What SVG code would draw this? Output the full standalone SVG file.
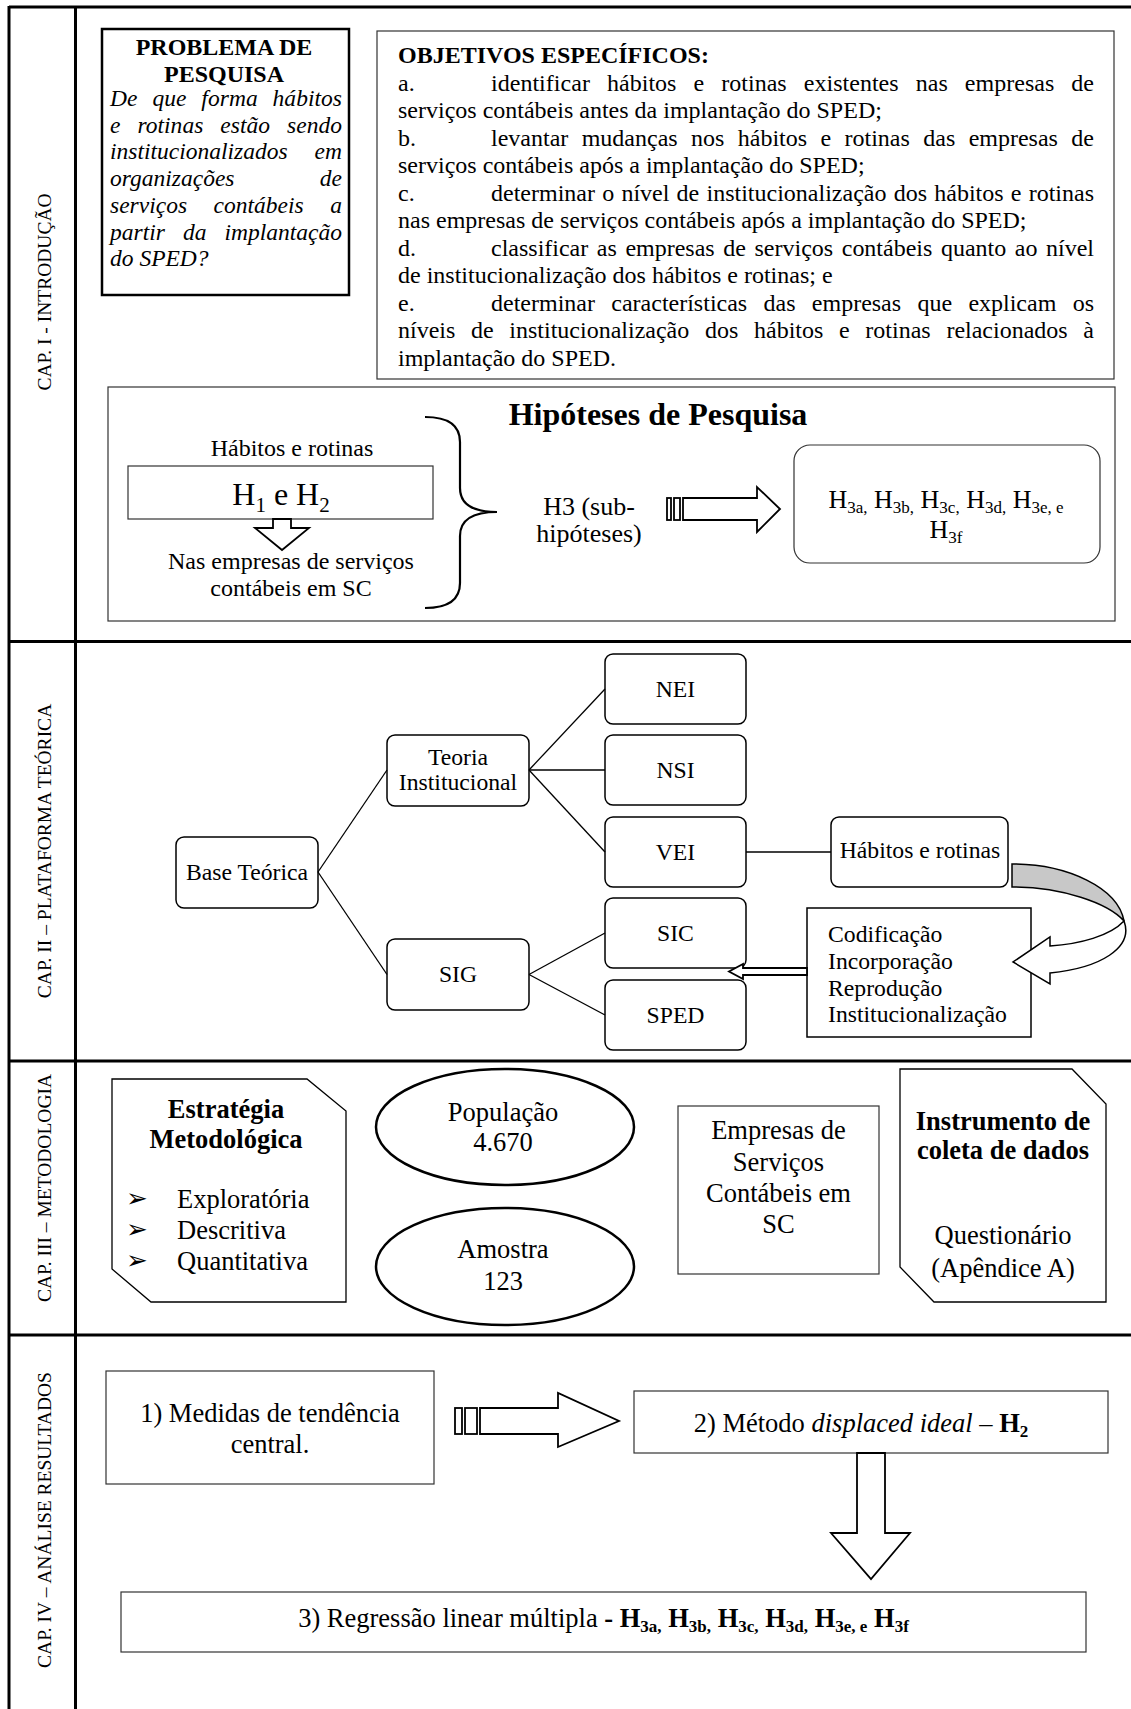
<svg xmlns="http://www.w3.org/2000/svg" width="1131" height="1709" viewBox="0 0 1131 1709">
<style>
text{font-family:"Liberation Serif","Times New Roman",serif;fill:#000}
.b{font-weight:bold}
.i{font-style:italic}
.m{text-anchor:middle}
.e{text-anchor:end}
.lab{font-size:19.5px;text-anchor:middle}
.f23{font-size:23.5px}
.f24{font-size:24px}
.f237{font-size:23.7px}
.f26{font-size:26px}
.f265{font-size:26.5px}
.f32{font-size:32px}
.fr{stroke:#000;stroke-width:3;fill:none}
.bx{fill:#fff;stroke:#000;stroke-width:1.5}
.gbx{fill:#fff;stroke:#333;stroke-width:1.2}
.cn{stroke:#000;stroke-width:1.3;fill:none}
.ar{fill:#fff;stroke:#000;stroke-width:1.8;stroke-miterlimit:10}
.bul{font-family:"DejaVu Sans",sans-serif;font-size:26px}
</style>
<rect width="1131" height="1709" fill="#fff"/>

<g id="frame">
<line class="fr" x1="9" y1="7" x2="1131" y2="7" stroke-width="2.5"/>
<line class="fr" x1="9" y1="6" x2="9" y2="1709" stroke-width="2.5"/>
<line class="fr" x1="75.5" y1="7" x2="75.5" y2="1709"/>
<line class="fr" x1="9" y1="641.5" x2="1131" y2="641.5"/>
<line class="fr" x1="9" y1="1061" x2="1131" y2="1061"/>
<line class="fr" x1="9" y1="1335" x2="1131" y2="1335"/>
</g>

<g id="labels">
<text class="lab" transform="translate(51,292) rotate(-90)">CAP. I - INTRODUÇÃO</text>
<text class="lab" transform="translate(51,851) rotate(-90)">CAP. II – PLATAFORMA TEÓRICA</text>
<text class="lab" transform="translate(51,1188) rotate(-90)">CAP. III – METODOLOGIA</text>
<text class="lab" transform="translate(51,1520) rotate(-90)">CAP. IV – ANÁLISE RESULTADOS</text>
</g>

<g id="problema">
<rect x="102" y="29" width="247" height="266" fill="#fff" stroke="#000" stroke-width="2.5"/>
<text class="b m f24" x="224" y="55">PROBLEMA DE</text>
<text class="b m f24" x="224" y="82">PESQUISA</text>
<text class="i f23" x="110" y="106" textLength="232" lengthAdjust="spacing" style="word-spacing:9px">De que forma hábitos</text>
<text class="i f23" x="110" y="132.7" textLength="232" lengthAdjust="spacing" style="word-spacing:11px">e rotinas estão sendo</text>
<text class="i f23" x="110" y="159.4" textLength="232" lengthAdjust="spacing" style="word-spacing:21px">institucionalizados em</text>
<text class="i f23" x="110" y="186">organizações</text>
<text class="i f23 e" x="342" y="186">de</text>
<text class="i f23" x="110" y="212.8" textLength="232" lengthAdjust="spacing" style="word-spacing:20.7px">serviços contábeis a</text>
<text class="i f23" x="110" y="239.5" textLength="232" lengthAdjust="spacing" style="word-spacing:12.2px">partir da implantação</text>
<text class="i f23" x="110" y="266.2">do SPED?</text>
</g>

<g id="objetivos">
<rect class="gbx" x="377" y="31" width="737" height="348"/>
<text class="b f24" x="398" y="63">OBJETIVOS ESPECÍFICOS:</text>
<text class="f24" x="398" y="90.5">a.</text>
<text class="f24" x="491" y="90.5" textLength="603" lengthAdjust="spacing" style="word-spacing:11px">identificar hábitos e rotinas existentes nas empresas de</text>
<text class="f24" x="398" y="118">serviços contábeis antes da implantação do SPED;</text>
<text class="f24" x="398" y="145.5">b.</text>
<text class="f24" x="491" y="145.5" textLength="603" lengthAdjust="spacing" style="word-spacing:7.4px">levantar mudanças nos hábitos e rotinas das empresas de</text>
<text class="f24" x="398" y="173">serviços contábeis após a implantação do SPED;</text>
<text class="f24" x="398" y="200.5">c.</text>
<text class="f24" x="491" y="200.5" textLength="603" lengthAdjust="spacing" style="word-spacing:1.2px">determinar o nível de institucionalização dos hábitos e rotinas</text>
<text class="f24" x="398" y="228">nas empresas de serviços contábeis após a implantação do SPED;</text>
<text class="f24" x="398" y="255.5">d.</text>
<text class="f24" x="491" y="255.5" textLength="603" lengthAdjust="spacing" style="word-spacing:2.6px">classificar as empresas de serviços contábeis quanto ao nível</text>
<text class="f24" x="398" y="283">de institucionalização dos hábitos e rotinas; e</text>
<text class="f24" x="398" y="310.5">e.</text>
<text class="f24" x="491" y="310.5" textLength="603" lengthAdjust="spacing" style="word-spacing:10.3px">determinar características das empresas que explicam os</text>
<text class="f24" x="398" y="338" textLength="696" lengthAdjust="spacing" style="word-spacing:9.7px">níveis de institucionalização dos hábitos e rotinas relacionados à</text>
<text class="f24" x="398" y="365.5">implantação do SPED.</text>
</g>

<g id="hipoteses">
<rect class="gbx" x="108" y="387" width="1007" height="234"/>
<text class="b m f32" x="658" y="425">Hipóteses de Pesquisa</text>
</g>

<g id="h1h2">
<text class="m f24" x="292" y="456">Hábitos e rotinas</text>
<rect class="gbx" x="128" y="466" width="305" height="53"/>
<text class="m f32" x="281" y="505">H<tspan font-size="21" dy="7">1</tspan><tspan dy="-7"> e H</tspan><tspan font-size="21" dy="7">2</tspan></text>
<text class="m f24" x="291" y="569">Nas empresas de serviços</text>
<text class="m f24" x="291" y="596">contábeis em SC</text>
</g>

<g id="h3">
<text class="m f26" x="589" y="515">H3 (sub-</text>
<text class="m f26" x="589" y="542">hipóteses)</text>
</g>

<g id="h3sub">
<rect class="gbx" x="794" y="445" width="306" height="118" rx="16"/>
<text class="m f26" x="946" y="508">H<tspan font-size="17" dy="5">3a,</tspan><tspan dy="-5"> H</tspan><tspan font-size="17" dy="5">3b,</tspan><tspan dy="-5"> H</tspan><tspan font-size="17" dy="5">3c,</tspan><tspan dy="-5"> H</tspan><tspan font-size="17" dy="5">3d,</tspan><tspan dy="-5"> H</tspan><tspan font-size="17" dy="5">3e, e</tspan></text>
<text class="m f26" x="946" y="538">H<tspan font-size="17" dy="5">3f</tspan></text>
</g>

<g id="base"><rect class="bx" x="176" y="837" width="142" height="71" rx="8"/><text class="m f237" x="247" y="880">Base Teórica</text></g>
<g id="teoria"><rect class="bx" x="387" y="735" width="142" height="71" rx="8"/><text class="m f237" x="458" y="765">Teoria</text><text class="m f237" x="458" y="790">Institucional</text></g>
<g id="sig"><rect class="bx" x="387" y="939" width="142" height="71" rx="8"/><text class="m f237" x="458" y="982">SIG</text></g>
<g id="nei"><rect class="bx" x="605" y="654" width="141" height="70" rx="8"/><text class="m f237" x="675.5" y="697">NEI</text></g>
<g id="nsi"><rect class="bx" x="605" y="735" width="141" height="70" rx="8"/><text class="m f237" x="675.5" y="778">NSI</text></g>
<g id="vei"><rect class="bx" x="605" y="817" width="141" height="70" rx="8"/><text class="m f237" x="675.5" y="860">VEI</text></g>
<g id="sic"><rect class="bx" x="605" y="898" width="141" height="70" rx="8"/><text class="m f237" x="675.5" y="941">SIC</text></g>
<g id="sped"><rect class="bx" x="605" y="980" width="141" height="70" rx="8"/><text class="m f237" x="675.5" y="1023">SPED</text></g>
<g id="habitos"><rect class="bx" x="831" y="817" width="177" height="70" rx="8"/><text class="m f237" x="920" y="858">Hábitos e rotinas</text></g>
<g id="codificacao">
<rect class="bx" x="807" y="908" width="224" height="129" stroke-width="2"/>
<text class="f237" x="828" y="942">Codificação</text>
<text class="f237" x="828" y="969">Incorporação</text>
<text class="f237" x="828" y="996">Reprodução</text>
<text class="f237" x="828" y="1022">Institucionalização</text>
</g>

<g id="estrategia">
<polygon points="112,1079 307,1079 346,1111 346,1302 151,1302 112,1269" fill="#fff" stroke="#000" stroke-width="1.3"/>
<text class="b m f265" x="226" y="1118">Estratégia</text>
<text class="b m f265" x="226" y="1148">Metodológica</text>
<text class="bul" x="126" y="1207">➢</text>
<text class="f265" x="177" y="1208">Exploratória</text>
<text class="bul" x="126" y="1238">➢</text>
<text class="f265" x="177" y="1239">Descritiva</text>
<text class="bul" x="126" y="1269">➢</text>
<text class="f265" x="177" y="1270">Quantitativa</text>
</g>
<g id="populacao">
<ellipse cx="505" cy="1127" rx="129" ry="58" fill="#fff" stroke="#000" stroke-width="2.5"/>
<text class="m f265" x="503" y="1121">População</text>
<text class="m f265" x="503" y="1151">4.670</text>
</g>
<g id="amostra">
<ellipse cx="505" cy="1266.5" rx="129" ry="58.5" fill="#fff" stroke="#000" stroke-width="2.5"/>
<text class="m f265" x="503" y="1258">Amostra</text>
<text class="m f265" x="503" y="1290">123</text>
</g>
<g id="empresas">
<rect class="gbx" x="678" y="1106" width="201" height="168"/>
<text class="m f265" x="778.5" y="1139">Empresas de</text>
<text class="m f265" x="778.5" y="1171">Serviços</text>
<text class="m f265" x="778.5" y="1202">Contábeis em</text>
<text class="m f265" x="778.5" y="1233">SC</text>
</g>
<g id="instrumento">
<polygon points="900,1069 1072,1069 1106,1104 1106,1302 934,1302 900,1267" fill="#fff" stroke="#000" stroke-width="1.3"/>
<text class="b m f265" x="1003" y="1130">Instrumento de</text>
<text class="b m f265" x="1003" y="1159">coleta de dados</text>
<text class="m f265" x="1003" y="1244">Questionário</text>
<text class="m f265" x="1003" y="1277">(Apêndice A)</text>
</g>

<g id="medidas">
<rect class="gbx" x="106" y="1371" width="328" height="113"/>
<text class="m f265" x="270" y="1422">1) Medidas de tendência</text>
<text class="m f265" x="270" y="1453">central.</text>
</g>
<g id="metodo">
<rect class="gbx" x="634" y="1391" width="474" height="62"/>
<text class="m f265" x="861" y="1432">2) Método <tspan class="i">displaced ideal</tspan> – <tspan class="b">H</tspan><tspan class="b" font-size="17" dy="5">2</tspan></text>
</g>
<g id="regressao">
<rect class="gbx" x="121" y="1592" width="965" height="60"/>
<text class="m f265" x="603.5" y="1627">3) Regressão linear múltipla <tspan class="b">- H</tspan><tspan class="b" font-size="17" dy="5">3a,</tspan><tspan class="b" dy="-5"> H</tspan><tspan class="b" font-size="17" dy="5">3b,</tspan><tspan class="b" dy="-5"> H</tspan><tspan class="b" font-size="17" dy="5">3c,</tspan><tspan class="b" dy="-5"> H</tspan><tspan class="b" font-size="17" dy="5">3d,</tspan><tspan class="b" dy="-5"> H</tspan><tspan class="b" font-size="17" dy="5">3e, e</tspan><tspan class="b" dy="-5"> H</tspan><tspan class="b" font-size="17" dy="5">3f</tspan></text>
</g>

<g id="connectors">
<path class="cn" d="M318,872 L387,770"/>
<path class="cn" d="M318,872 L387,974.5"/>
<path class="cn" d="M529,770 L605,689"/>
<path class="cn" d="M529,770 L605,770" stroke-width="2"/>
<path class="cn" d="M529,770 L605,852"/>
<path class="cn" d="M529,974.5 L605,933"/>
<path class="cn" d="M529,974.5 L605,1015"/>
<path class="cn" d="M746,852 L831,852" stroke-width="1.6"/>
<path d="M425,417 Q460,417 460,442 L460,488 Q460,512 497,512 Q460,512 460,536 L460,583 Q460,608 425,608" fill="none" stroke="#000" stroke-width="2.2"/>
<polygon class="ar" stroke-width="1.2" points="273,519 291,519 291,528 309,528 282,550 255,528 273,528"/>
<rect class="ar" x="667" y="498" width="4" height="22" stroke-width="1.5"/>
<rect class="ar" x="674" y="498" width="6" height="22" stroke-width="1.5"/>
<polygon class="ar" points="683,498 757,498 757,487 780,509 757,532 757,520 683,520"/>
<path d="M1012,864 C1068,864 1118,888 1124,921 C1108,903 1062,887 1012,887 Z" fill="#c8c8c8" stroke="#000" stroke-width="1.5"/>
<path d="M1124,921 C1134,948 1100,968 1050,973 L1050,984 L1013,962 L1050,937 L1050,946 C1080,944 1110,936 1124,921 Z" fill="#fff" stroke="#000" stroke-width="1.5"/>
<polygon class="ar" stroke-width="1.5" points="807,968 743,968 743,964 729,971.5 743,979 743,975 807,975"/>
<rect class="ar" x="455" y="1408" width="7" height="26"/>
<rect class="ar" x="465" y="1408" width="12" height="26"/>
<polygon class="ar" points="480,1408 558,1408 558,1393 619,1421 558,1447 558,1434 480,1434"/>
<polygon class="ar" stroke-width="1.3" points="857,1453 885,1453 885,1533 910,1533 871,1579 831,1533 857,1533"/>
</g>
</svg>
